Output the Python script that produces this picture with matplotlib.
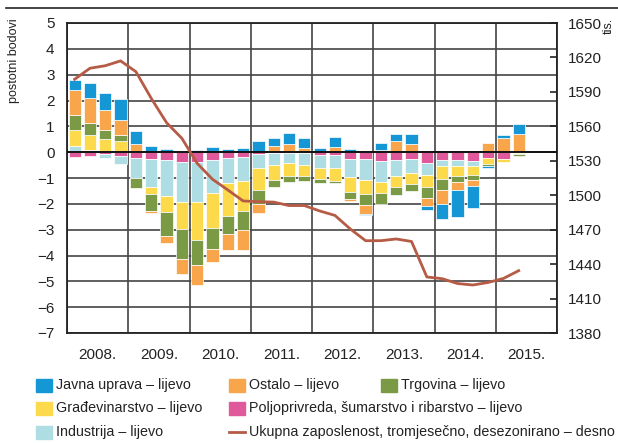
import numpy as np
import matplotlib
matplotlib.use("Agg")
import matplotlib.pyplot as plt
from matplotlib.patches import Rectangle
from matplotlib.lines import Line2D

plt.rcParams['font.family'] = ['Liberation Sans', 'DejaVu Sans']

# kvartali 2008Q1 - 2015Q2
years = ['2008.', '2009.', '2010.', '2011.', '2012.', '2013.', '2014.', '2015.']

# doprinosi (postotni bodovi)
poljo = [-0.17, -0.14, -0.09, -0.14, -0.24, -0.26, -0.32, -0.37,
         -0.37, -0.31, -0.24, -0.19, -0.09, -0.02, -0.02, -0.02,
         -0.10, -0.12, -0.27, -0.28, -0.35, -0.32, -0.27, -0.41,
         -0.31, -0.30, -0.33, -0.22, -0.25, -0.05]
industrija = [0.24, 0.08, -0.13, -0.33, -0.77, -1.07, -1.39, -1.57,
              -1.57, -1.26, -0.96, -0.93, -0.54, -0.46, -0.41, -0.46,
              -0.50, -0.48, -0.69, -0.81, -0.82, -0.62, -0.54, -0.49,
              -0.23, -0.24, -0.21, 0.0, 0.0, 0.0]
gradjevina = [0.60, 0.58, 0.51, 0.42, 0.06, -0.27, -0.59, -1.03,
              -1.45, -1.38, -1.27, -1.16, -0.84, -0.60, -0.50, -0.44,
              -0.44, -0.51, -0.57, -0.54, -0.41, -0.41, -0.42, -0.44,
              -0.48, -0.39, -0.35, -0.24, -0.12, -0.03]
trgovina = [0.58, 0.48, 0.35, 0.26, -0.39, -0.68, -0.96, -1.17,
            -0.96, -0.81, -0.69, -0.73, -0.54, -0.28, -0.21, -0.18,
            -0.14, -0.10, -0.28, -0.41, -0.42, -0.32, -0.26, -0.42,
            -0.45, -0.22, -0.19, -0.08, 0.0, -0.06]
ostalo = [1.00, 0.96, 0.76, 0.58, 0.27, -0.09, -0.24, -0.58,
          -0.81, -0.48, -0.63, -0.78, -0.33, 0.23, 0.31, 0.17,
          0.0, 0.19, -0.09, -0.36, 0.08, 0.42, 0.31, -0.33,
          -0.55, -0.33, -0.23, 0.35, 0.55, 0.69]
javna = [0.39, 0.58, 0.67, 0.78, 0.50, 0.23, 0.12, 0.04,
         0.08, 0.21, 0.12, 0.18, 0.42, 0.33, 0.42, 0.39,
         0.17, 0.40, 0.14, -0.03, 0.27, 0.27, 0.41, -0.15,
         -0.58, -1.03, -0.85, -0.06, 0.10, 0.41]

# ukupna zaposlenost (tis.)
zaposlenost = [1601, 1610.6, 1612.8, 1617, 1607.6, 1584.4, 1563.2, 1549.6,
               1527.8, 1513.9, 1504.6, 1495, 1494.4, 1494, 1491, 1491,
               1486.3, 1482.4, 1470.6, 1460.4, 1460.4, 1461.9, 1459.7, 1428.8,
               1427.3, 1423.1, 1421.8, 1424, 1427.5, 1434.3]

series = [
    (poljo, '#E05A9B', 'Poljoprivreda, šumarstvo i ribarstvo – lijevo'),
    (industrija, '#AEDDE3', 'Industrija – lijevo'),
    (gradjevina, '#FDDA4C', 'Građevinarstvo – lijevo'),
    (trgovina, '#7A9A46', 'Trgovina – lijevo'),
    (ostalo, '#F8A54B', 'Ostalo – lijevo'),
    (javna, '#1597D5', 'Javna uprava – lijevo'),
]
line_color = '#B65B45'

fig = plt.figure(figsize=(6.18, 4.43), dpi=100)
ax = fig.add_axes([67/618, 1-333/443, 490/618, 310/443])

n = len(zaposlenost)
x = 2008 + (np.arange(n) + 0.5) / 4

pos = np.zeros(n)
neg = np.zeros(n)
for vals, col, lab in series:
    v = np.array(vals)
    bottom = np.where(v >= 0, pos, neg)
    ax.bar(x, v, width=0.2, bottom=bottom, color=col, edgecolor='white',
           linewidth=0.5, zorder=3)
    pos += np.where(v >= 0, v, 0)
    neg += np.where(v < 0, v, 0)

ax.set_xlim(2008, 2016)
ax.set_ylim(-7, 5)
ax.set_yticks(range(-7, 6))
ax.set_xticks(np.arange(2008, 2017))
ax.set_xticklabels([])
ax.set_xticks(np.arange(2008, 2016) + 0.5, minor=True)
ax.set_xticklabels(years, minor=True)
ax.tick_params(axis='x', which='both', length=0, pad=11, labelsize=11, colors='#222222')
ax.tick_params(axis='y', length=0, pad=9, labelsize=11, colors='#222222')
ax.grid(True, which='major', color='#444444', linewidth=1.2, zorder=0)
ax.axhline(0, color='#111111', linewidth=1.4, zorder=4)
for s in ax.spines.values():
    s.set_linewidth(1.3)
    s.set_color('#222222')

ax2 = ax.twinx()
ax2.plot(x, zaposlenost, color=line_color, linewidth=2, zorder=5)
ax2.set_ylim(1380, 1650)
ax2.set_yticks(range(1380, 1651, 30))
ax2.tick_params(axis='y', direction='in', length=5, width=1.2, pad=8,
                labelsize=11, colors='#222222')
for s in ax2.spines.values():
    s.set_visible(False)

fig.text(14/618, 1-18/443, 'postotni bodovi', rotation=90, va='top', ha='center',
         fontsize=9, color='#222222')
fig.text(609/618, 1-18/443, 'tis.', rotation=90, va='top', ha='center',
         fontsize=9, color='#222222')
fig.add_artist(Line2D([6/618, 1], [1-8/443, 1-8/443], color='#222222', linewidth=1.2))

# legenda
leg = [
    (36, 385, series[5][1], series[5][2], 'patch'),
    (229, 385, series[4][1], series[4][2], 'patch'),
    (381, 385, series[3][1], series[3][2], 'patch'),
    (36, 408, series[2][1], series[2][2], 'patch'),
    (229, 408, series[0][1], series[0][2], 'patch'),
    (36, 432, series[1][1], series[1][2], 'patch'),
    (229, 432, line_color, 'Ukupna zaposlenost, tromjesečno, desezonirano – desno', 'line'),
]
for lx, ly, col, lab, kind in leg:
    if kind == 'patch':
        fig.add_artist(Rectangle((lx/618, 1-(ly+6.5)/443), 16/618, 13/443,
                                 transform=fig.transFigure, color=col))
    else:
        fig.add_artist(Line2D([lx/618, (lx+16)/618], [1-ly/443, 1-ly/443],
                              color=col, linewidth=2))
    fig.text((lx+20)/618, 1-ly/443, lab, va='center', ha='left',
             fontsize=10.3, color='#222222')

fig.savefig('out.png', dpi=100)
